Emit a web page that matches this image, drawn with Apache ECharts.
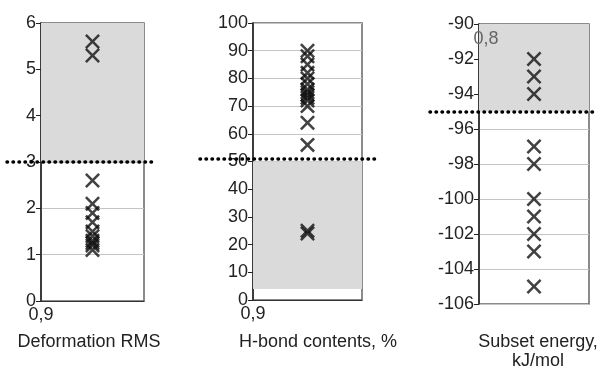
<!DOCTYPE html>
<html>
<head>
<meta charset="utf-8">
<script src="https://cdn.jsdelivr.net/npm/echarts@6/dist/echarts.min.js"></script>
<style>
  html, body { margin: 0; padding: 0; background: #fff; }
  #chart { width: 598px; height: 369px; }
</style>
</head>
<body>
<div id="chart"></div>
<script>
// values
const rmsValues = [5.6, 5.3, 2.6, 2.1, 1.9, 1.7, 1.5, 1.4, 1.3, 1.25, 1.2, 1.1];
const hbondValues = [90, 88, 85, 82, 80, 78, 76, 75, 74, 73, 72, 70, 64, 56, 25, 24];
const energyValues = [-92, -93, -94, -97, -98, -100, -101, -102, -103, -105];

const panelTitles = ["Deformation RMS", "H-bond contents, %", "Subset energy,\nkJ/mol"];
const xLabels = ["0,9", "0,9", "0,8"];
const yRanges = [[0, 6, 1], [0, 100, 10], [-106, -90, 2]];
const thresholds = [3, 51, -95];
const bands = [[3, 6], [4, 50], [-95, -90]];

const chart = echarts.init(document.getElementById("chart"));

// cross marker (X shape)
const cross = "path://M0,1.2L1.2,0L5,3.8L8.8,0L10,1.2L6.2,5L10,8.8L8.8,10L5,6.2L1.2,10L0,8.8L3.8,5Z";
const font = "Liberation Sans, Arial, sans-serif";

const grids = [
  { left: 41, right: 454, top: 23, bottom: 68 },
  { left: 253, right: 236, top: 23, bottom: 69 },
  { left: 479, right: 9, top: 24, bottom: 65 },
  // wider hidden grids only for the dotted threshold lines
  { left: 7, right: 441, top: 23, bottom: 68 },
  { left: 200, right: 223, top: 23, bottom: 69 },
  { left: 430, right: 0, top: 24, bottom: 65 },
];

const xAxis = [];
const yAxis = [];
const series = [];
const allValues = [rmsValues, hbondValues, energyValues];

for (let i = 0; i < 3; i++) {
  const top = i === 2;
  xAxis.push({
    gridIndex: i,
    type: "value",
    min: 0,
    max: 2,
    interval: 2,
    position: top ? "top" : "bottom",
    z: 10,
    axisLine: { show: !top, lineStyle: { color: "#333" } },
    axisTick: { show: false },
    splitLine: { show: false },
    axisLabel: {
      inside: top,
      margin: top ? 6 : 5,
      padding: top ? [0, 0, 0, 14] : 0,
      color: top ? "#666" : "#222",
      fontSize: 18,
      fontFamily: font,
      formatter: (v) => (v === 0 ? xLabels[i] : ""),
    },
  });
  yAxis.push({
    gridIndex: i,
    type: "value",
    min: yRanges[i][0],
    max: yRanges[i][1],
    interval: yRanges[i][2],
    axisLine: { show: true, lineStyle: { color: "#222", width: 1.5 } },
    axisTick: { show: true, length: 5, lineStyle: { color: "#222" } },
    splitLine: { show: true, lineStyle: { color: "#c4c4c4", width: 1 } },
    axisLabel: { color: "#222", fontSize: 18, fontFamily: font, margin: 5 },
  });
  series.push({
    type: "scatter",
    xAxisIndex: i,
    yAxisIndex: i,
    symbol: cross,
    symbolSize: 15,
    itemStyle: { color: "#111" },
    data: allValues[i].map((v) => [1, v]),
    markArea: {
      silent: true,
      itemStyle: { color: "#dadada" },
      data: [[{ yAxis: bands[i][0] }, { yAxis: bands[i][1] }]],
    },
    z: 3,
  });
}

for (let i = 0; i < 3; i++) {
  xAxis.push({ gridIndex: i + 3, type: "value", min: 0, max: 1, show: false });
  yAxis.push({
    gridIndex: i + 3, type: "value", show: false,
    min: yRanges[i][0], max: yRanges[i][1],
  });
  series.push({
    type: "line",
    xAxisIndex: i + 3,
    yAxisIndex: i + 3,
    data: [],
    markLine: {
      silent: true,
      symbol: "none",
      label: { show: false },
      lineStyle: { color: "#000", width: 3.5, type: [0.5, 5.5], cap: "round" },
      data: [{ yAxis: thresholds[i] }],
    },
    z: 5,
  });
}

chart.setOption({
  animation: false,
  grid: grids.map((g, i) =>
    Object.assign({ show: i < 3, borderColor: "#666", borderWidth: 1.5, backgroundColor: "transparent" }, g)
  ),
  title: [
    { text: panelTitles[0], left: 84, top: 328, textAlign: "center" },
    { text: panelTitles[1], left: 313, top: 328, textAlign: "center" },
    { text: panelTitles[2], left: 533, top: 328, textAlign: "center" },
  ].map((t) => Object.assign(t, {
    textStyle: { fontSize: 18, fontWeight: "normal", color: "#222", fontFamily: font, lineHeight: 19 },
  })),
  xAxis: xAxis,
  yAxis: yAxis,
  series: series,
});
</script>
</body>
</html>
